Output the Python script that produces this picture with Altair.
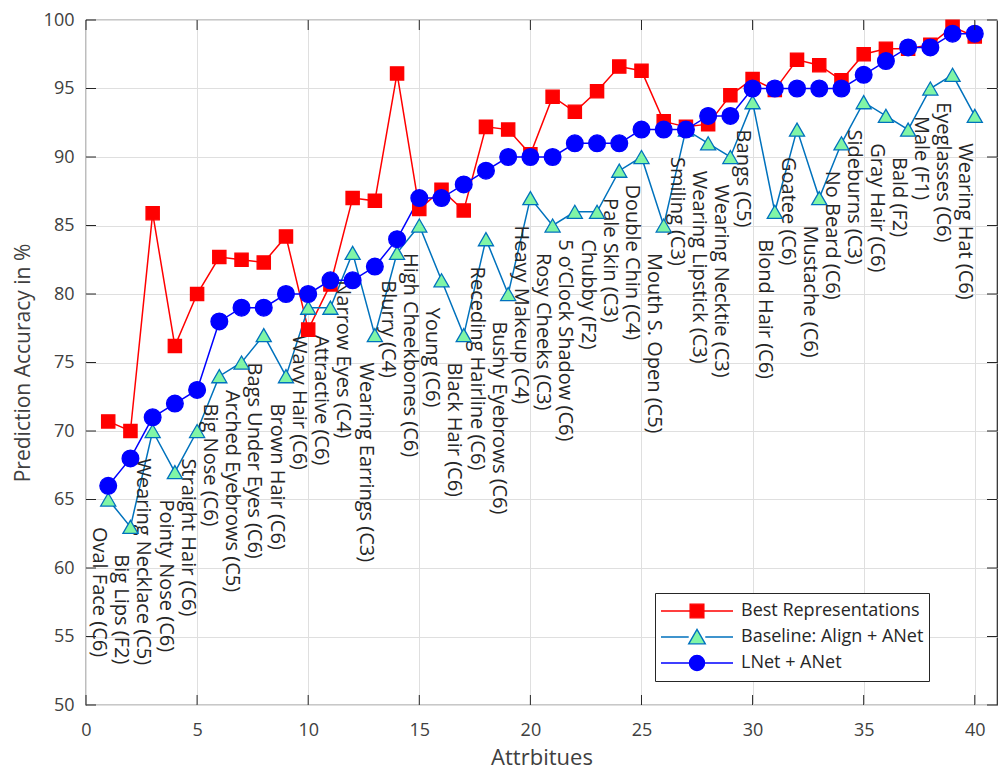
import altair as alt
import pandas as pd

attributes = [
    "Oval Face (C6)", "Big Lips (F2)", "Wearing Necklace (C5)", "Pointy Nose (C6)",
    "Straight Hair (C6)", "Big Nose (C6)", "Arched Eyebrows (C5)", "Bags Under Eyes (C6)",
    "Brown Hair (C6)", "Wavy Hair (C6)", "Attractive (C6)", "Narrow Eyes (C4)",
    "Wearing Earrings (C3)", "Blurry (C4)", "High Cheekbones (C6)", "Young (C6)",
    "Black Hair (C6)", "Receding Hairline (C6)", "Bushy Eyebrows (C6)", "Heavy Makeup (C4)",
    "Rosy Cheeks (C3)", "5 o\u2019Clock Shadow (C6)", "Chubby (F2)", "Pale Skin (C3)",
    "Double Chin (C4)", "Mouth S. Open (C5)", "Smiling (C3)", "Wearing Lipstick (C3)",
    "Wearing Necktie (C3)", "Bangs (C5)", "Blond Hair (C6)", "Goatee (C6)",
    "Mustache (C6)", "No Beard (C6)", "Sideburns (C3)", "Gray Hair (C6)",
    "Bald (F2)", "Male (F1)", "Eyeglasses (C6)", "Wearing Hat (C6)",
]
best = [70.7, 70.0, 85.9, 76.2, 80.0, 82.7, 82.5, 82.3, 84.2, 77.4,
        80.7, 87.0, 86.8, 96.1, 86.2, 87.6, 86.1, 92.2, 92.0, 90.2,
        94.4, 93.3, 94.8, 96.6, 96.3, 92.6, 92.2, 92.4, 94.5, 95.7,
        94.9, 97.1, 96.7, 95.6, 97.5, 97.9, 97.9, 98.2, 99.5, 98.8]
baseline = [65, 63, 70, 67, 70, 74, 75, 77, 74, 79,
            79, 83, 77, 83, 85, 81, 77, 84, 80, 87,
            85, 86, 86, 89, 90, 85, 92, 91, 90, 94,
            86, 92, 87, 91, 94, 93, 92, 95, 96, 93]
lnet = [66, 68, 71, 72, 73, 78, 79, 79, 80, 80,
        81, 81, 82, 84, 87, 87, 88, 89, 90, 90,
        90, 91, 91, 91, 92, 92, 92, 93, 93, 95,
        95, 95, 95, 95, 96, 97, 98, 98, 99, 99]
x_ticks = [0, 5, 10, 15, 20, 25, 30, 35, 40]
y_ticks = [50, 55, 60, 65, 70, 75, 80, 85, 90, 95, 100]

series_names = ["Best Representations", "Baseline: Align + ANet", "LNet + ANet"]
line_colors = ["#FF0000", "#0072BD", "#0000FF"]
marker_fills = ["#FF0000", "#80F5A6", "#0000FF"]
marker_shapes = ["square", "triangle-up", "circle"]
marker_sizes = [175, 280, 210]
legend_paths = [
    "M-1,0H1M-0.19,-0.19H0.19V0.19H-0.19Z",
    "M-1,0H-0.23M0.23,0H1M0,-0.21L0.23,0.19L-0.23,0.19Z",
    "M-1,0H1M-0.21,0A0.21,0.21 0 1,0 0.21,0A0.21,0.21 0 1,0 -0.21,0Z",
]

W, H = 911, 685
FONT = "Open Sans"
TXT = "#262626"
AX = "#404040"

idx = list(range(1, 41))
rows = []
for name, vals in zip(series_names, [best, baseline, lnet]):
    for i, v in zip(idx, vals):
        rows.append({"idx": i, "acc": v, "series": name})
df = pd.DataFrame(rows)
lab = pd.DataFrame({"idx": idx, "acc": baseline, "label": attributes})

xs = alt.Scale(domain=[0, 41], nice=False, zero=False)
ys = alt.Scale(domain=[50, 100], nice=False, zero=False)

x_axis = alt.Axis(values=x_ticks, title="Attrbitues", ticks=False, domain=False,
                  labelFontSize=18, labelColor=AX, labelFont=FONT, labelPadding=16,
                  titleFontSize=22, titleFont=FONT, titleColor=AX, titleFontWeight="normal",
                  titlePadding=8, grid=True, gridColor="#dfdfdf", labelFlush=False)
y_axis = alt.Axis(values=y_ticks, title="Prediction Accuracy in %", ticks=False, domain=False,
                  labelFontSize=18, labelColor=AX, labelFont=FONT, labelPadding=12,
                  titleFontSize=21, titleFont=FONT, titleColor=AX, titleFontWeight="normal",
                  titlePadding=10, grid=True, gridColor="#dfdfdf", labelFlush=False)

base = alt.Chart(df)

lines = base.mark_line(strokeWidth=1.5).encode(
    x=alt.X("idx:Q", scale=xs, axis=x_axis),
    y=alt.Y("acc:Q", scale=ys, axis=y_axis),
    stroke=alt.Stroke("series:N", scale=alt.Scale(domain=series_names, range=line_colors), legend=None),
)

points = base.mark_point(filled=True, opacity=1, fillOpacity=1, strokeWidth=1.3).encode(
    x=alt.X("idx:Q", scale=xs),
    y=alt.Y("acc:Q", scale=ys),
    shape=alt.Shape("series:N", scale=alt.Scale(domain=series_names, range=marker_shapes), legend=None),
    fill=alt.Fill("series:N", scale=alt.Scale(domain=series_names, range=marker_fills), legend=None),
    stroke=alt.Stroke("series:N", scale=alt.Scale(domain=series_names, range=line_colors), legend=None),
    size=alt.Size("series:O", scale=alt.Scale(domain=series_names, range=marker_sizes), legend=None),
)

leg_opts = dict(orient="none", legendX=569, legendY=573, title=None, symbolSize=5184,
                symbolStrokeWidth=1.4, labelFontSize=18, labelFont=FONT, labelColor=TXT,
                labelLimit=400, padding=5, rowPadding=0, clipHeight=26, labelOffset=7,
                strokeColor="#262626", fillColor="white", symbolOffset=0)

legend_layer = base.transform_filter("false").mark_point(filled=True, opacity=1, fillOpacity=1).encode(
    x=alt.X("idx:Q", scale=xs),
    y=alt.Y("acc:Q", scale=ys),
    shape=alt.Shape("series:N", scale=alt.Scale(domain=series_names, range=legend_paths),
                    legend=alt.Legend(**leg_opts)),
    fill=alt.Fill("series:N", scale=alt.Scale(domain=series_names, range=marker_fills),
                  legend=alt.Legend(**leg_opts)),
    stroke=alt.Stroke("series:N", scale=alt.Scale(domain=series_names, range=line_colors),
                      legend=alt.Legend(**leg_opts)),
)

labels = alt.Chart(lab).transform_calculate(
    lx="datum.idx - 0.42", ly="datum.acc - 2.0"
).mark_text(angle=90, align="left", baseline="middle", fontSize=20, font=FONT, color=TXT).encode(
    x=alt.X("lx:Q", scale=xs),
    y=alt.Y("ly:Q", scale=ys),
    text="label:N",
)

xt = pd.DataFrame({"idx": x_ticks})
yt = pd.DataFrame({"acc": y_ticks})
tick_color = "#262626"
xb = alt.Chart(xt).mark_rule(color=tick_color).encode(
    x=alt.X("idx:Q", scale=xs), y=alt.value(H), y2=alt.value(H - 10))
xtop = alt.Chart(xt).mark_rule(color=tick_color).encode(
    x=alt.X("idx:Q", scale=xs), y=alt.value(0), y2=alt.value(10))
yl = alt.Chart(yt).mark_rule(color=tick_color).encode(
    y=alt.Y("acc:Q", scale=ys), x=alt.value(0), x2=alt.value(10))
yr = alt.Chart(yt).mark_rule(color=tick_color).encode(
    y=alt.Y("acc:Q", scale=ys), x=alt.value(W), x2=alt.value(W - 10))

chart = alt.layer(lines, labels, points, xb, xtop, yl, yr, legend_layer).resolve_scale(
    shape="independent", fill="independent", stroke="independent", size="independent"
).properties(
    width=W, height=H,
    autosize=alt.AutoSizeParams(type="none"),
    padding={"left": 78, "top": 12, "right": 2, "bottom": 70},
).configure_view(stroke="#262626", strokeWidth=1.2)

chart.save("out.html", embed_options={"renderer": "svg", "actions": False})
